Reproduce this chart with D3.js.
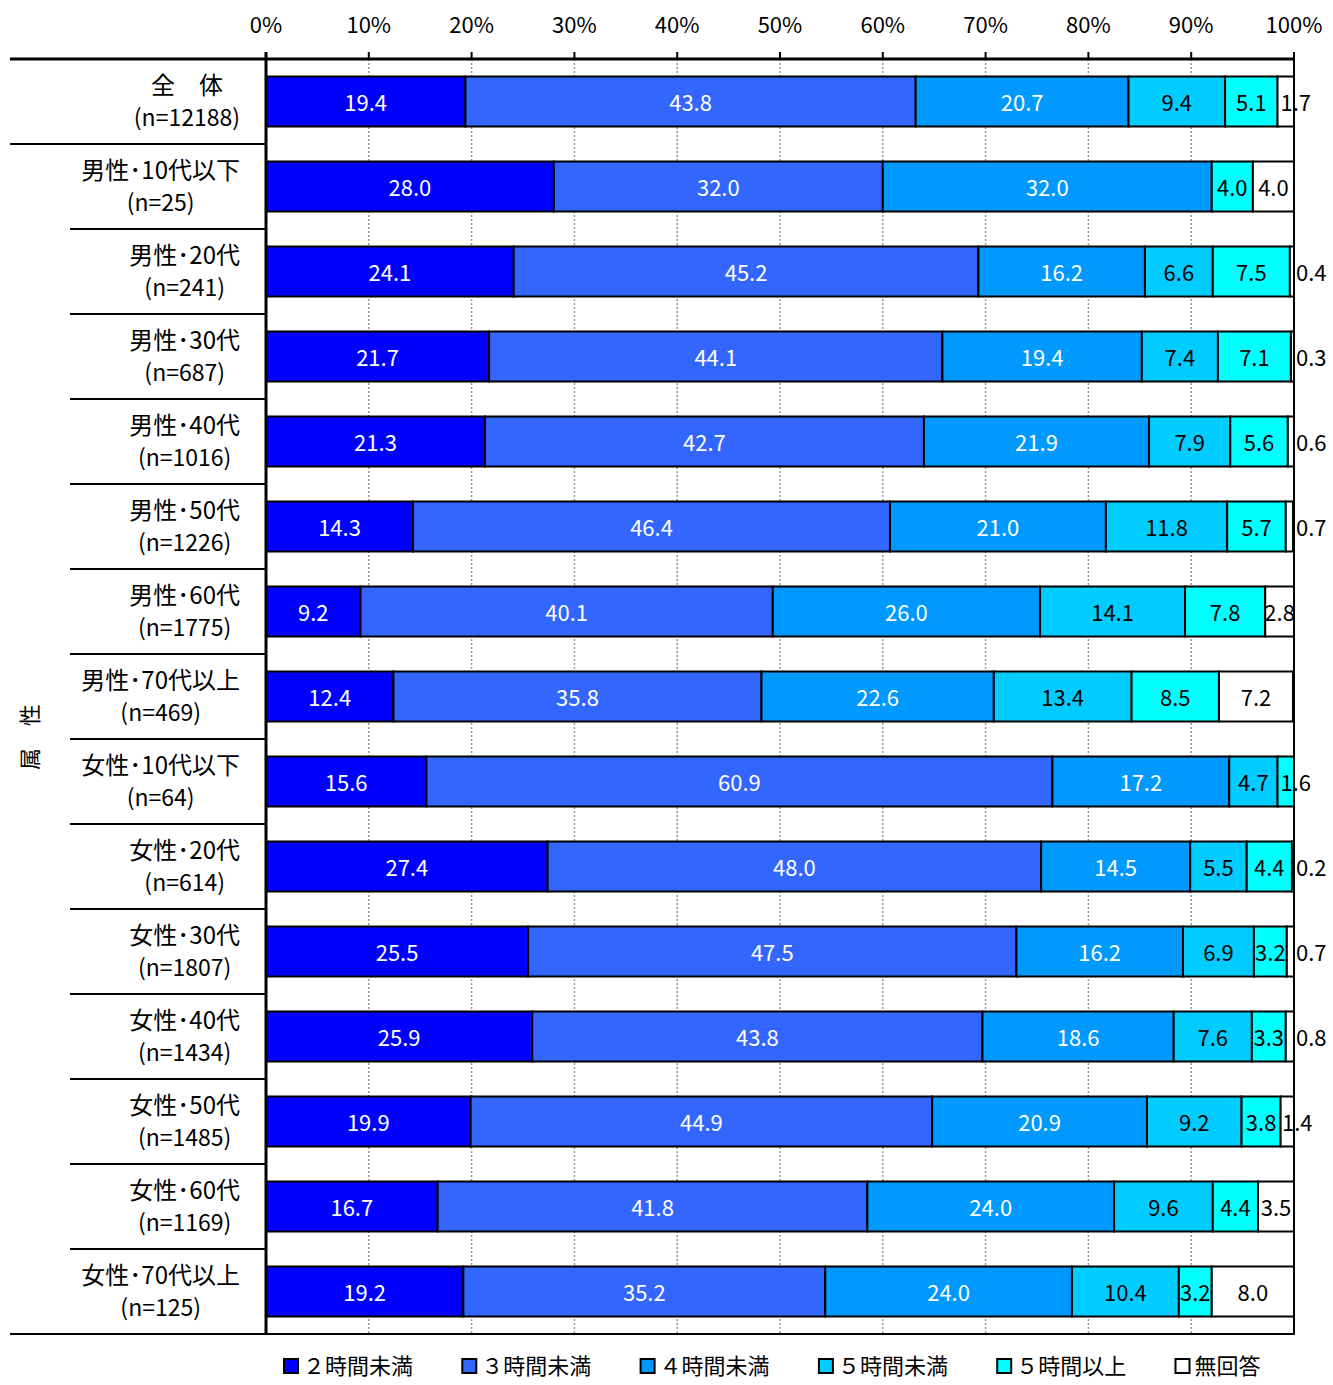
<!DOCTYPE html>
<html><head><meta charset="utf-8">
<script src="https://cdn.jsdelivr.net/npm/d3@7"></script>
<style>body{margin:0;background:#fff}svg{display:block}text{font-family:"Noto Sans CJK JP","Noto Sans",sans-serif}</style>
</head><body><svg id="c" width="1333" height="1385"></svg>
<script>
const categories = ["全　体","男性･10代以下","男性･20代","男性･30代","男性･40代","男性･50代","男性･60代","男性･70代以上","女性･10代以下","女性･20代","女性･30代","女性･40代","女性･50代","女性･60代","女性･70代以上"];
const sampleSizes = ["(n=12188)","(n=25)","(n=241)","(n=687)","(n=1016)","(n=1226)","(n=1775)","(n=469)","(n=64)","(n=614)","(n=1807)","(n=1434)","(n=1485)","(n=1169)","(n=125)"];
const seriesNames = ["２時間未満","３時間未満","４時間未満","５時間未満","５時間以上","無回答"];
const seriesColors = ["#0000FF","#3366FF","#0099FF","#00CCFF","#00FFFF","#FFFFFF"];
const labelColors = ["#fff","#fff","#fff","#000","#000","#000"];
const under2h = [19.4,28.0,24.1,21.7,21.3,14.3,9.2,12.4,15.6,27.4,25.5,25.9,19.9,16.7,19.2];
const under3h = [43.8,32.0,45.2,44.1,42.7,46.4,40.1,35.8,60.9,48.0,47.5,43.8,44.9,41.8,35.2];
const under4h = [20.7,32.0,16.2,19.4,21.9,21.0,26.0,22.6,17.2,14.5,16.2,18.6,20.9,24.0,24.0];
const under5h = [9.4,0,6.6,7.4,7.9,11.8,14.1,13.4,4.7,5.5,6.9,7.6,9.2,9.6,10.4];
const over5h = [5.1,4.0,7.5,7.1,5.6,5.7,7.8,8.5,1.6,4.4,3.2,3.3,3.8,4.4,3.2];
const noAnswer = [1.7,4.0,0.4,0.3,0.6,0.7,2.8,7.2,0,0.2,0.7,0.8,1.4,3.5,8.0];
const tickValues = [0,10,20,30,40,50,60,70,80,90,100];
const series = [under2h,under3h,under4h,under5h,over5h,noAnswer];

const svg = d3.select("#c");
const x = d3.scaleLinear().domain([0,100]).range([266,1294]);
const y = d3.scaleBand().domain(categories).range([59,1334]).paddingInner(35/85).paddingOuter(17.5/85);
const step = y.step();

// gridlines
svg.append("g").selectAll("line").data(tickValues.filter(v=>v>0&&v<100)).join("line")
  .attr("x1",d=>x(d)).attr("x2",d=>x(d)).attr("y1",59).attr("y2",1334)
  .attr("stroke","#999").attr("stroke-width",1.5).attr("stroke-dasharray","2,2");

// bars
const stacks = categories.map((c,i)=>{
  let acc=0;
  return series.map((s,k)=>{const v=s[i];const x0=acc;acc+=v;return {c,i,k,v,x0,x1:Math.min(acc,100)};});
});
const flat = stacks.flat();
svg.append("g").selectAll("rect").data(flat.filter(d=>d.v>0)).join("rect")
  .attr("x",d=>x(d.x0)).attr("y",d=>y(d.c)).attr("width",d=>Math.max(0,x(d.x1)-x(d.x0))).attr("height",y.bandwidth())
  .attr("fill",d=>seriesColors[d.k]).attr("stroke","#000").attr("stroke-width",2);

// value labels
svg.append("g").selectAll("text").data(flat.filter(d=>d.v>0)).join("text")
  .attr("x",d=>{
    if(d.v<1) return x(100)+2;
    const cx=(x(d.x0)+x(d.x1))/2;
    return d.v<2? cx+10: cx;})
  .attr("text-anchor",d=>d.v<1?"start":"middle")
  .attr("y",d=>y(d.c)+y.bandwidth()/2).attr("dy","0.42em")
  .attr("font-size",22).attr("fill",d=>labelColors[d.k])
  .text(d=>d.v.toFixed(1));

// axis lines
svg.append("line").attr("x1",10).attr("x2",1294).attr("y1",59).attr("y2",59).attr("stroke","#000").attr("stroke-width",3);
svg.append("line").attr("x1",10).attr("x2",1294).attr("y1",1334).attr("y2",1334).attr("stroke","#000").attr("stroke-width",2);
svg.append("line").attr("x1",x(0)).attr("x2",x(0)).attr("y1",52).attr("y2",1335).attr("stroke","#000").attr("stroke-width",3);
svg.append("line").attr("x1",x(100)).attr("x2",x(100)).attr("y1",52).attr("y2",1335).attr("stroke","#000").attr("stroke-width",2);
svg.append("g").selectAll("line").data(tickValues).join("line")
  .attr("x1",d=>x(d)).attr("x2",d=>x(d)).attr("y1",52).attr("y2",59).attr("stroke","#000").attr("stroke-width",2);
svg.append("g").selectAll("text").data(tickValues).join("text")
  .attr("x",d=>x(d)).attr("y",25).attr("dy","0.36em").attr("text-anchor","middle")
  .attr("font-size",22).attr("fill","#000").text(d=>d+"%");

// row separators
svg.append("g").selectAll("line").data(d3.range(1,categories.length)).join("line")
  .attr("x1",d=>d===1?10:70).attr("x2",x(0)).attr("y1",d=>59+d*step).attr("y2",d=>59+d*step)
  .attr("stroke","#000").attr("stroke-width",2);

// category labels
const lab = svg.append("g");
categories.forEach((c,i)=>{
  const cy = y(c)+y.bandwidth()/2;
  const t1 = lab.append("text").attr("font-size",24).attr("text-anchor","middle").attr("y",cy-16).attr("dy","0.36em").text(c);
  const t2 = lab.append("text").attr("font-size",23).attr("text-anchor","middle").attr("y",cy+16).attr("dy","0.36em").text(sampleSizes[i]);
  const w = Math.max(t1.node().getComputedTextLength(), t2.node().getComputedTextLength());
  const cx = 240 - w/2;
  t1.attr("x",cx); t2.attr("x",cx);
});

// axis title
svg.append("text").attr("transform","translate(30,737) rotate(-90)").attr("text-anchor","middle").attr("dy","0.36em")
  .attr("font-size",22).text("属　性");

// legend
const lg = svg.append("g").selectAll("g").data(seriesNames).join("g")
  .attr("transform",(d,i)=>`translate(${284+i*178.3},1366)`);
lg.append("rect").attr("x",0).attr("y",-7).attr("width",14).attr("height",14)
  .attr("fill",(d,i)=>seriesColors[i]).attr("stroke","#000").attr("stroke-width",2);
lg.append("text").attr("x",19).attr("dy","0.36em").attr("font-size",22).text(d=>d);
</script></body></html>
